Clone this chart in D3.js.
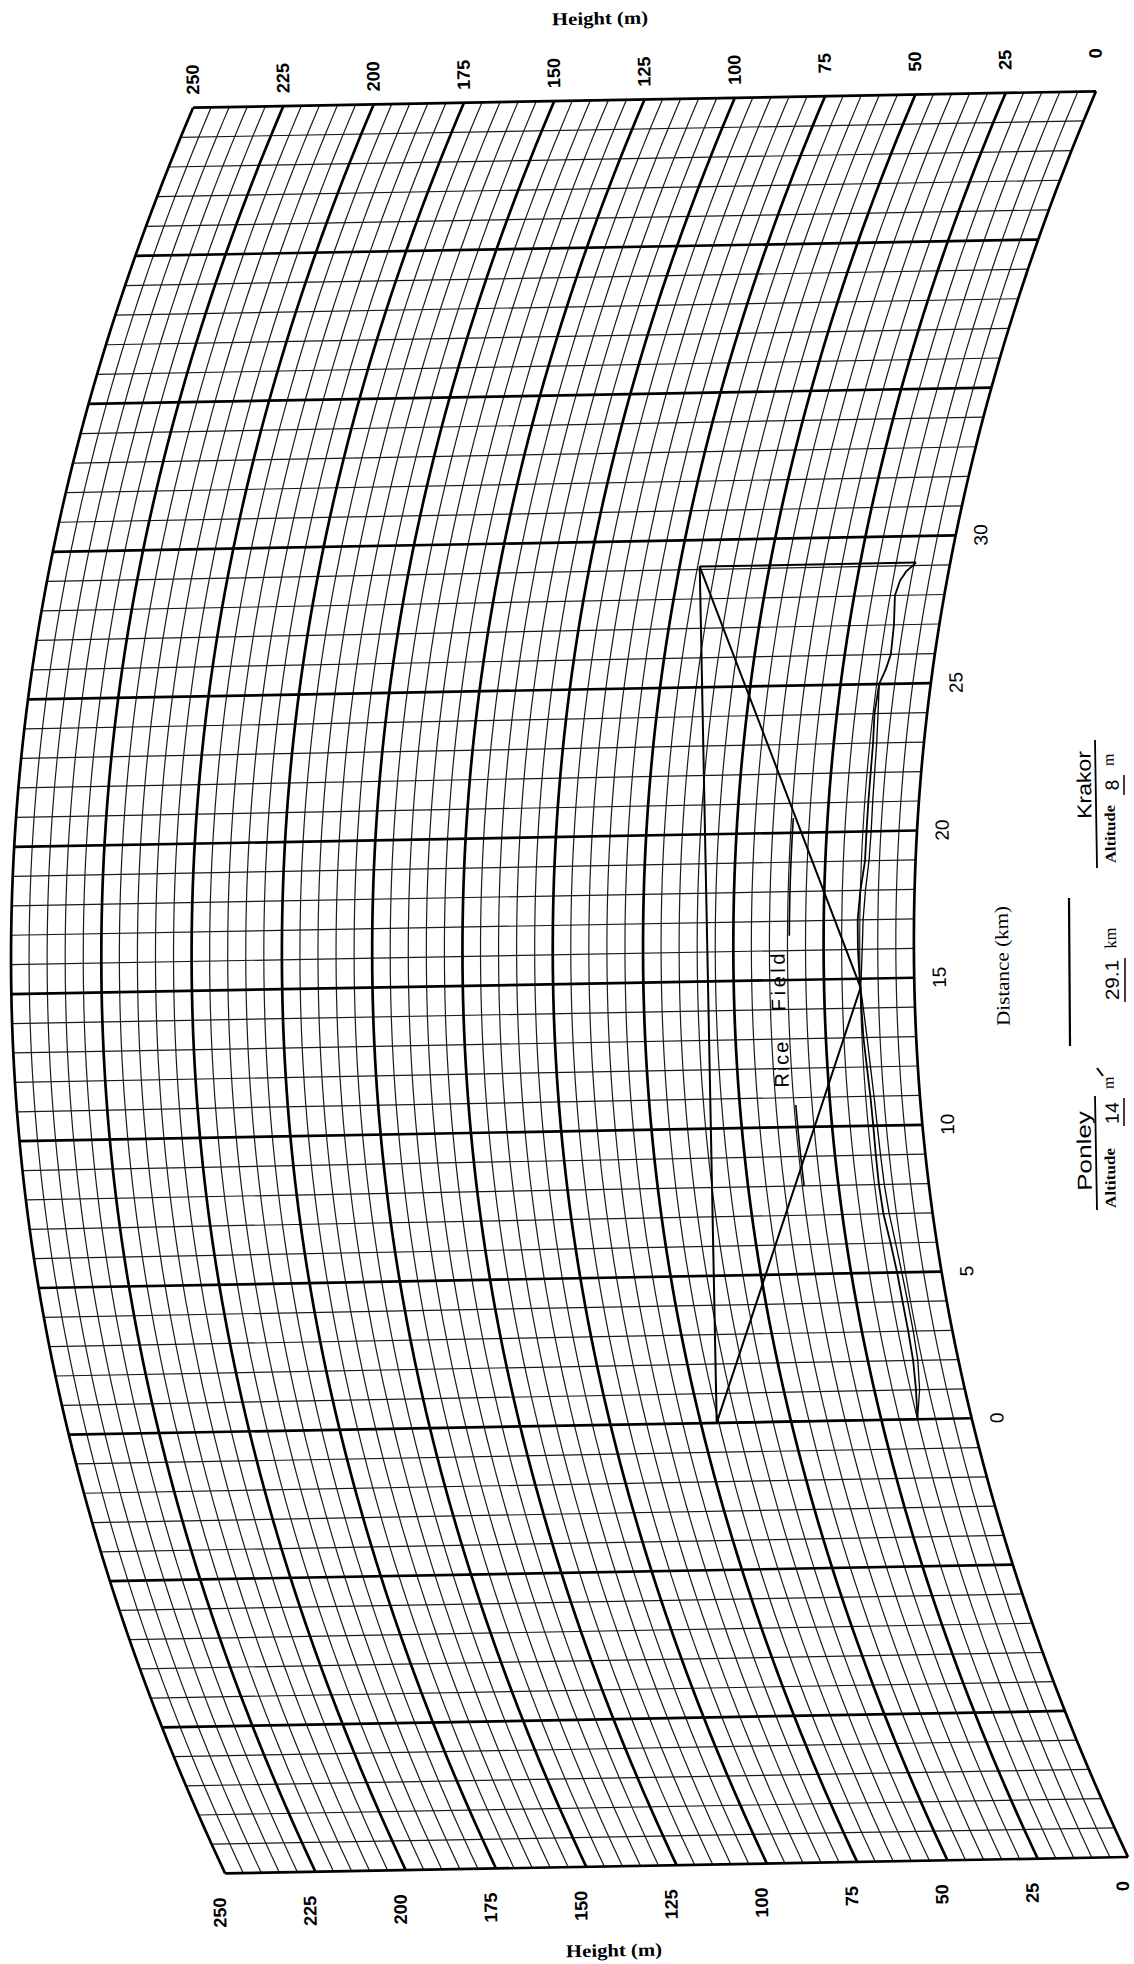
<!DOCTYPE html>
<html>
<head>
<meta charset="utf-8">
<script src="https://cdn.jsdelivr.net/npm/d3@7"></script>
<style>
  body { margin: 0; background: #fff; }
  svg { display: block; }
</style>
</head>
<body>
<svg id="chart" width="1134" height="1964"></svg>
<script>
// tick labels
var heightTicks = [0, 25, 50, 75, 100, 125, 150, 175, 200, 225, 250];
var distanceTicks = [0, 5, 10, 15, 20, 25, 30];

// path profile Ponley (0 km) -> Krakor (29.1 km), heights in m
var profileKm = [0, 1, 2, 3, 4, 5, 6, 7, 8, 9, 10, 11, 12, 13, 14, 14.7, 15, 16, 17, 18, 19, 20, 21, 22, 23, 24, 25, 25.5, 26, 27, 28, 28.5, 28.8, 29.1];
var groundTop = [15, 13.5, 12.5, 12.2, 12.2, 12.3, 12.8, 13.6, 13.8, 13.7, 13.6, 13.7, 14.1, 14.6, 14.8, 14.9, 15.1, 15.5, 15.6, 15.0, 14.0, 14.0, 14.0, 14.0, 14.1, 14.6, 14.3, 13.0, 12.2, 12.6, 13.7, 13.0, 11.8, 9.5];
var groundLow = [15, 12.5, 11.2, 10.8, 10.8, 11.0, 11.4, 12.0, 12.3, 12.4, 12.5, 12.7, 13.1, 13.6, 14.3, 14.9, 14.7, 14.3, 14.1, 13.6, 12.9, 12.7, 12.8, 12.9, 13.1, 13.6, 14.3, null, null, null, null, null, null, null];

// antennas and reflection point
var stationKm = [0, 29.1];
var antennaM = [70.6, 69.4];
var reflection = [14.7, 14.9];

// rice field marker (km) and label
var riceKm = [[8.0, 10.9], [16.5, 20.5]];
var riceM = 34.5;
var riceWords = ['Rice', 'Field'];
var riceWordKm = [12.13, 14.93];

// chart spans -15..45 km, 0..250 m, earth bulge added to the height
var K = 1.29;
var bulge = function(d) { return (d + 15) * (45 - d) / (12.74 * K); };

var x = d3.scaleLinear().domain([-15, 45]).range([0, 1766]);
var y = d3.scaleLinear().domain([0, 250]).range([0, -903]);

function pt(d, h) { return [x(d), y(h + bulge(d))]; }

var svg = d3.select('#chart');
var tilt = -91.04;

// the sheet is turned: distance runs up the page, height runs to the left
var chart = svg.append('g')
  .attr('transform', 'translate(1128,1857) rotate(' + tilt + ')');

var line = d3.line();
var kmSteps = d3.range(-15, 45.001, 0.5);
var mLines = d3.range(0, 251, 5);
var kmLines = d3.range(-15, 46, 1);

function heightPath(h) { return line(kmSteps.map(function(d) { return pt(d, h); })); }
function distPath(d) { return line([pt(d, 0), pt(d, 250)]); }

var thin = chart.append('g').attr('fill', 'none').attr('stroke', '#1a1a1a').attr('stroke-width', 1.2);
thin.selectAll('.hm').data(mLines.filter(function(h) { return h % 25 !== 0; }))
  .enter().append('path').attr('d', heightPath);
thin.selectAll('.dk').data(kmLines.filter(function(d) { return d % 5 !== 0; }))
  .enter().append('path').attr('d', distPath);

var thick = chart.append('g').attr('fill', 'none').attr('stroke', '#000').attr('stroke-width', 2.7);
thick.selectAll('.hm').data(mLines.filter(function(h) { return h % 25 === 0; }))
  .enter().append('path').attr('d', heightPath);
thick.selectAll('.dk').data(kmLines.filter(function(d) { return d % 5 === 0; }))
  .enter().append('path').attr('d', distPath);

// height labels, top and bottom of the sheet
chart.selectAll('.ht').data(heightTicks).enter().append('text')
  .attr('x', x(45) + 43)
  .attr('y', function(h) { return y(h); })
  .attr('dy', '0.35em')
  .attr('text-anchor', 'end')
  .style('font-family', 'Liberation Sans, Arial, sans-serif')
  .style('font-weight', 'bold')
  .style('font-size', '18px')
  .text(function(h) { return h; });

chart.selectAll('.hb').data(heightTicks).enter().append('text')
  .attr('x', x(-15) - 24)
  .attr('y', function(h) { return y(h) - 6; })
  .attr('dy', '0.35em')
  .attr('text-anchor', 'end')
  .style('font-family', 'Liberation Sans, Arial, sans-serif')
  .style('font-weight', 'bold')
  .style('font-size', '18px')
  .text(function(h) { return h; });

// distance labels beside the 0 m curve
chart.selectAll('.dl').data(distanceTicks).enter().append('text')
  .attr('x', function(d) { return x(d); })
  .attr('y', function(d) { return y(bulge(d)) + 25; })
  .attr('dy', '0.35em')
  .attr('text-anchor', 'middle')
  .style('font-family', 'Liberation Sans, Arial, sans-serif')
  .style('font-size', '19px')
  .text(function(d) { return d; });

// ground profile
var prof = chart.append('g').attr('fill', 'none').attr('stroke', '#000');
prof.append('path')
  .attr('stroke-width', 1.8)
  .attr('d', line(profileKm.map(function(d, i) { return pt(d, groundTop[i]); })));
prof.append('path')
  .attr('stroke-width', 1.3)
  .attr('d', d3.line().defined(function(p) { return p !== null; })(
    profileKm.map(function(d, i) { return groundLow[i] === null ? null : pt(d, groundLow[i]); })));

// masts
stationKm.forEach(function(d, i) {
  prof.append('path').attr('stroke-width', 2)
    .attr('d', line([pt(d, groundTop[i === 0 ? 0 : groundTop.length - 1]), pt(d, antennaM[i])]));
});

// direct ray and reflected ray
prof.append('path').attr('stroke-width', 2)
  .attr('d', line([pt(stationKm[0], antennaM[0]), pt(stationKm[1], antennaM[1])]));
prof.append('path').attr('stroke-width', 2)
  .attr('d', line([pt(stationKm[0], antennaM[0]), pt(reflection[0], reflection[1]), pt(stationKm[1], antennaM[1])]));

// rice field marker
riceKm.forEach(function(r) {
  prof.append('path').attr('stroke-width', 1.6)
    .attr('d', line(d3.range(r[0], r[1] + 0.001, 0.25).map(function(d) { return pt(d, riceM); })));
});
chart.selectAll('.rice').data(riceWords).enter().append('text')
  .attr('x', function(w, i) { return x(riceWordKm[i]); })
  .attr('y', function(w, i) { return y(37.7 + bulge(riceWordKm[i])); })
  .attr('dy', '0.35em')
  .attr('text-anchor', 'middle')
  .attr('textLength', function(w) { return w.length * 11.5; })
  .attr('lengthAdjust', 'spacing')
  .style('font-family', 'Liberation Sans, Arial, sans-serif')
  .style('font-size', '20px')
  .text(function(w) { return w; });

// side notes, placed on the page
function note(txt, cx, cy, font, size, len, weight) {
  var t = svg.append('text')
    .attr('transform', 'translate(' + cx + ',' + cy + ') rotate(' + tilt + ')')
    .attr('text-anchor', 'middle')
    .attr('dy', '0.35em')
    .style('font-family', font)
    .style('font-size', size + 'px')
    .text(txt);
  if (len) t.attr('textLength', len).attr('lengthAdjust', 'spacingAndGlyphs');
  if (weight) t.style('font-weight', weight);
  return t;
}
function rule(x1, y1, x2, y2, w) {
  svg.append('line').attr('x1', x1).attr('y1', y1).attr('x2', x2).attr('y2', y2)
    .attr('stroke', '#000').attr('stroke-width', w);
}

var serif = 'Liberation Serif, Times New Roman, serif';
var sans = 'Liberation Sans, Arial, sans-serif';

note('Distance (km)', 1002, 966, serif, 19, 120);
rule(1069, 898, 1070, 1046, 2.2);

note('29.1', 1112, 980, sans, 19, 40);
note('km', 1110, 938, serif, 17, 21);
rule(1125, 958, 1125, 1002, 1.5);

note('Krakor', 1084, 785, sans, 20, 68);
rule(1095, 740, 1097, 868, 1.8);
note('Altitude', 1110, 834, serif, 15, 58, 'bold');
note('8', 1112, 785, sans, 19);
note('m', 1108, 760, serif, 16);
rule(1124, 775, 1124, 795, 1.5);

note('Ponley', 1084, 1151, sans, 20, 80);
rule(1095, 1096, 1097, 1210, 1.8);
note('Altitude', 1110, 1178, serif, 15, 60, 'bold');
note('14', 1112, 1113, sans, 19, 22);
note('m', 1108, 1083, serif, 16);
rule(1124, 1098, 1124, 1126, 1.5);
rule(1097, 1068, 1103, 1076, 2);

// axis titles
svg.append('text')
  .attr('transform', 'translate(600,18) rotate(-1.04)')
  .attr('text-anchor', 'middle').attr('dy', '0.35em')
  .attr('textLength', 96).attr('lengthAdjust', 'spacingAndGlyphs')
  .style('font-family', serif).style('font-weight', 'bold').style('font-size', '18px')
  .text('Height (m)');
svg.append('text')
  .attr('transform', 'translate(614,1950) rotate(-1.04)')
  .attr('text-anchor', 'middle').attr('dy', '0.35em')
  .attr('textLength', 96).attr('lengthAdjust', 'spacingAndGlyphs')
  .style('font-family', serif).style('font-weight', 'bold').style('font-size', '18px')
  .text('Height (m)');
</script>
</body>
</html>
